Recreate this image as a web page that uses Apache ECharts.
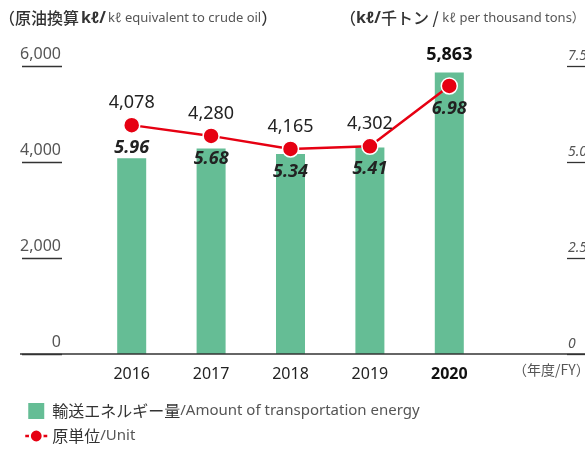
<!DOCTYPE html>
<html><head><meta charset="utf-8">
<script src="https://cdn.jsdelivr.net/npm/echarts@6/dist/echarts.min.js"></script>
<style>html,body{margin:0;padding:0;background:#fff}#c{width:585px;height:450px}</style>
</head><body><div id="c"></div>
<script>
const categories = ['2016', '2017', '2018', '2019', '2020'];
const energyValues = [4078, 4280, 4165, 4302, 5863];
const unitValues = [5.96, 5.68, 5.34, 5.41, 6.98];
const leftTicks = { min: 0, max: 6000, interval: 2000 };
const rightTicks = { min: 0, max: 7.5, interval: 2.5 };
const energyName = '輸送エネルギー量/Amount of transportation energy';
const unitName = '原単位/Unit';

const GREEN = '#65bd95';
const RED = '#e60012';
const LAT = '"Noto Sans", "Noto Sans CJK JP", sans-serif';
const JP = '"Noto Sans CJK JP", "Noto Sans", sans-serif';
const last = categories.length - 1;

const chart = echarts.init(document.getElementById('c'), null, { renderer: 'canvas' });
chart.setOption({
  animation: false,
  backgroundColor: '#fff',
  title: [
    {
      left: -6, top: 5,
      text: '{j|（原油換算}{k|kℓ/}{e|kℓ equivalent to crude oil}{j|）}',
      textStyle: { rich: {
        j: { fontFamily: JP, fontSize: 16, fontWeight: 500, color: '#333' },
        k: { fontFamily: LAT, fontSize: 16, fontWeight: 'bold', color: '#333', padding: [0, 2, 0, 2] },
        e: { fontFamily: LAT, fontSize: 13, fontWeight: 'normal', color: '#555' }
      } }
    },
    {
      left: 335, top: 5,
      text: '{j|（}{k|kℓ/}{j|千トン / }{e|kℓ per thousand tons）}',
      textStyle: { rich: {
        j: { fontFamily: JP, fontSize: 16, fontWeight: 500, color: '#333' },
        k: { fontFamily: LAT, fontSize: 16, fontWeight: 'bold', color: '#333' },
        e: { fontFamily: LAT, fontSize: 13, fontWeight: 'normal', color: '#555' }
      } }
    }
  ],
  legend: {
    orient: 'vertical', left: 19, top: 398, height: 60,
    itemWidth: 22, itemHeight: 16, itemGap: 9,
    symbolKeepAspect: true,
    data: [
      { name: energyName, icon: 'path://M0,0H17V17H0Z' },
      { name: unitName }
    ],
    lineStyle: { type: [5, 12], width: 2.5 },
    formatter: function (n) {
      const p = n.split('/');
      return '{j|' + p[0] + '}{e|/' + p[1] + '}';
    },
    textStyle: { rich: {
      j: { fontFamily: JP, fontSize: 16, color: '#333', lineHeight: 18 },
      e: { fontFamily: LAT, fontSize: 15, color: '#555', lineHeight: 18 }
    } }
  },
  grid: { left: 92, right: 96, top: 66, bottom: 96, containLabel: false, outerBoundsMode: 'none' },
  xAxis: {
    type: 'category',
    data: categories,
    name: '（年度/FY）',
    nameLocation: 'end',
    nameGap: 24,
    nameTextStyle: { fontFamily: JP, fontSize: 14, color: '#555', verticalAlign: 'top', padding: [9, 0, 0, 0] },
    axisLine: { show: false },
    axisTick: { show: false },
    axisLabel: {
      margin: 12,
      formatter: function (v, i) { return i === last ? '{b|' + v + '}' : '{n|' + v + '}'; },
      rich: {
        n: { fontFamily: LAT, fontSize: 16, color: '#222' },
        b: { fontFamily: LAT, fontSize: 16, fontWeight: 'bold', color: '#111' }
      }
    }
  },
  yAxis: [
    {
      type: 'value', min: leftTicks.min, max: leftTicks.max, interval: leftTicks.interval,
      position: 'left', offset: 30,
      axisLine: { show: false },
      axisTick: { show: true, length: 40, lineStyle: { color: '#333', width: 1.3 } },
      splitLine: { show: false },
      axisLabel: {
        margin: 1, align: 'right', verticalAlign: 'bottom',
        padding: [0, 0, 4, 0],
        fontFamily: LAT, fontSize: 16, color: '#555',
        formatter: function (v) { return v.toLocaleString('en-US'); }
      }
    },
    {
      type: 'value', min: rightTicks.min, max: rightTicks.max, interval: rightTicks.interval,
      position: 'right', offset: 78,
      axisLine: { show: false },
      axisTick: { show: true, length: 30, lineStyle: { color: '#333', width: 1.3 } },
      splitLine: { show: false },
      axisLabel: {
        margin: 1, align: 'left', verticalAlign: 'bottom',
        padding: [0, 0, 3, 0],
        fontFamily: LAT, fontSize: 14, fontStyle: 'italic', color: '#555',
        formatter: function (v) { return v === 0 ? '0' : v.toFixed(1); }
      }
    }
  ],
  graphic: [
    { type: 'line', shape: { x1: 20, y1: 354, x2: 585, y2: 354 }, style: { stroke: '#333', lineWidth: 1.5 }, z: 10 }
  ],
  series: [
    {
      name: energyName,
      type: 'bar',
      yAxisIndex: 0,
      barWidth: 29,
      itemStyle: { color: GREEN },
      data: energyValues.map(function (v, i) {
        return i === last ? {
          value: v,
          label: { show: true, position: 'top', distance: 9, fontFamily: LAT, fontSize: 18, fontWeight: 'bold', color: '#111',
            formatter: function (p) { return p.value.toLocaleString('en-US'); } }
        } : v;
      })
    },
    {
      name: unitName,
      type: 'line',
      yAxisIndex: 1,
      symbol: 'circle',
      symbolSize: 16,
      itemStyle: { color: RED, borderColor: '#fff', borderWidth: 1.5 },
      lineStyle: { color: RED, width: 2.5 },
      z: 5,
      label: {
        show: true, position: 'inside',
        formatter: function (p) {
          const top = p.dataIndex === last ? ' ' : energyValues[p.dataIndex].toLocaleString('en-US');
          return '{a|' + top + '}\n{g| }\n{b|' + p.value.toFixed(2) + '}';
        },
        rich: {
          a: { fontFamily: LAT, fontSize: 18, color: '#222', lineHeight: 20 },
          g: { fontSize: 10, lineHeight: 25 },
          b: { fontFamily: LAT, fontSize: 18, fontStyle: 'italic', fontWeight: 'bold', color: '#222', lineHeight: 20 }
        }
      },
      data: unitValues
    }
  ]
});
</script></body></html>
